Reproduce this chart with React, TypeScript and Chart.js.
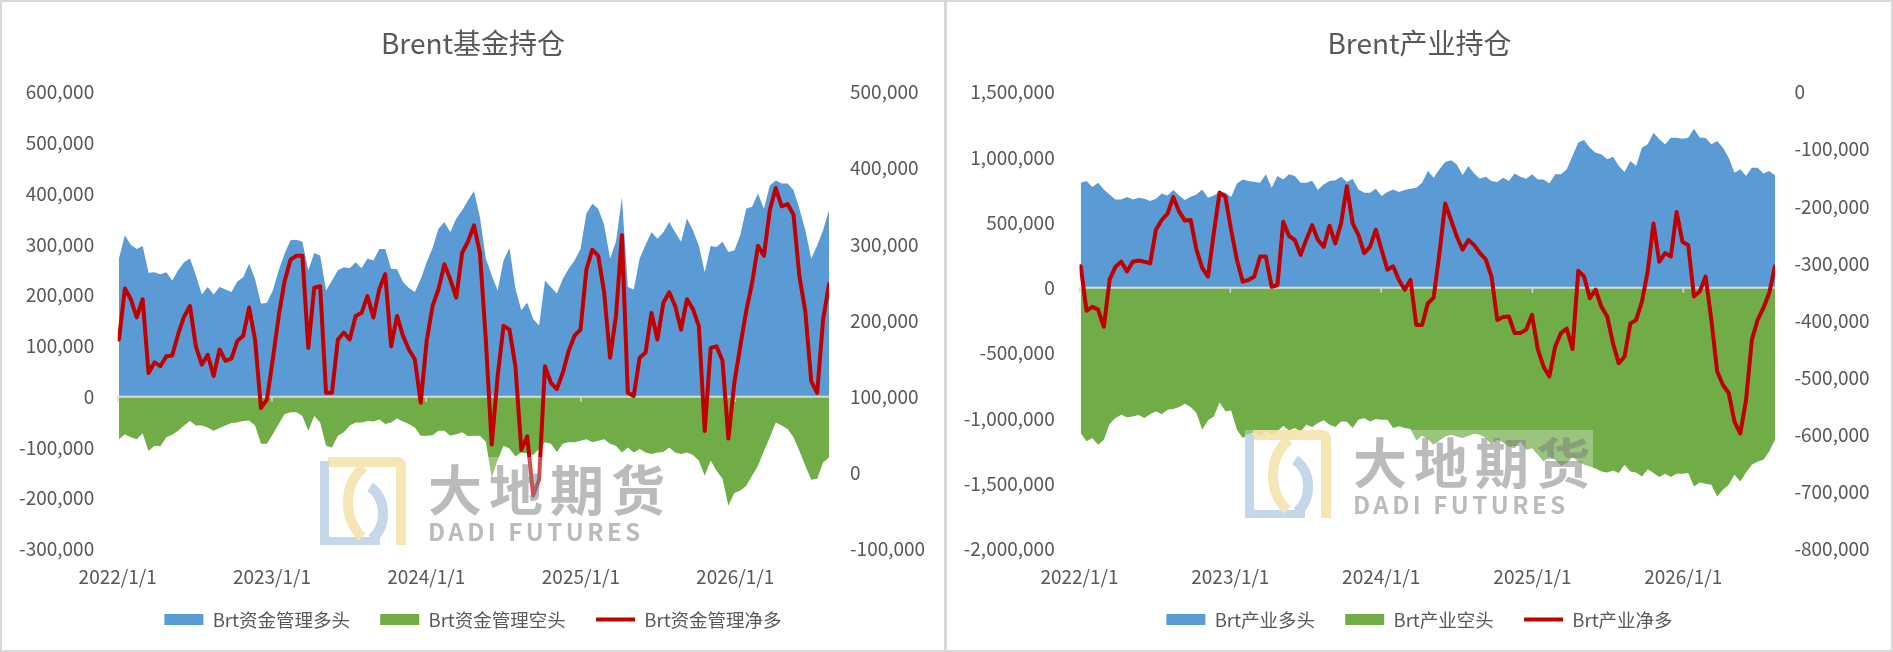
import { useEffect, useRef } from "react";
import { Chart, registerables, type ChartOptions, type Plugin } from "chart.js";

Chart.register(...registerables);

const FONT = '"Noto Sans CJK SC", "Noto Sans", sans-serif';
const TEXT = "#595959";
const BLUE = "#5B9BD5";
const GREEN = "#70AD47";
const RED = "#C00000";

// weekly COT reports, sampled every second week
const START = Date.UTC(2022, 0, 1);
const FIRST_REPORT = Date.UTC(2022, 0, 4);
const DAY = 86400000;
const STEP_DAYS = 14;

const yearTicks = ["2022/1/1", "2023/1/1", "2024/1/1", "2025/1/1", "2026/1/1"];

const fundLabels = ["Brt资金管理多头", "Brt资金管理空头", "Brt资金管理净多"];
const industryLabels = ["Brt产业多头", "Brt产业空头", "Brt产业净多"];

const fundLong = [
  272000, 318000, 299000, 291000, 297000, 244000, 245000, 241000, 245000, 229000,
  249000, 265000, 272000, 239000, 201000, 216000, 201000, 216000, 211000, 206000,
  227000, 235000, 262000, 232000, 183000, 185000, 209000, 249000, 282000, 308000,
  309000, 305000, 249000, 283000, 278000, 209000, 229000, 249000, 255000, 253000,
  265000, 253000, 272000, 268000, 291000, 291000, 252000, 251000, 226000, 214000,
  206000, 232000, 265000, 293000, 331000, 344000, 324000, 351000, 367000, 387000,
  405000, 354000, 272000, 239000, 209000, 268000, 293000, 213000, 170000, 185000,
  153000, 140000, 229000, 216000, 203000, 232000, 252000, 268000, 291000, 361000,
  380000, 370000, 338000, 272000, 305000, 393000, 216000, 211000, 272000, 299000,
  324000, 311000, 324000, 344000, 324000, 305000, 351000, 328000, 298000, 245000,
  297000, 295000, 305000, 285000, 288000, 318000, 370000, 374000, 400000, 370000,
  416000, 426000, 420000, 420000, 407000, 370000, 328000, 272000, 298000, 328000,
  367000,
];

const fundShort = [
  -84000, -74000, -80000, -84000, -72000, -107000, -97000, -98000, -80000, -75000,
  -67000, -57000, -48000, -57000, -57000, -61000, -67000, -62000, -57000, -52000,
  -51000, -48000, -47000, -57000, -93000, -93000, -74000, -54000, -34000, -31000,
  -31000, -38000, -67000, -38000, -51000, -97000, -100000, -77000, -70000, -57000,
  -51000, -51000, -48000, -49000, -45000, -54000, -51000, -43000, -49000, -54000,
  -61000, -77000, -77000, -76000, -67000, -67000, -77000, -74000, -70000, -78000,
  -77000, -77000, -89000, -160000, -125000, -97000, -102000, -118000, -110000, -112000,
  -115000, -103000, -90000, -93000, -109000, -93000, -90000, -90000, -87000, -84000,
  -90000, -87000, -84000, -93000, -97000, -110000, -100000, -110000, -103000, -110000,
  -113000, -110000, -109000, -100000, -110000, -113000, -110000, -115000, -126000, -156000,
  -126000, -146000, -162000, -215000, -190000, -185000, -176000, -156000, -136000, -107000,
  -80000, -51000, -57000, -64000, -80000, -107000, -136000, -164000, -162000, -130000,
  -120000,
];

const fundNet = [
  175000, 242000, 228000, 204000, 228000, 131000, 145000, 140000, 153000, 154000,
  182000, 205000, 219000, 166000, 142000, 155000, 127000, 162000, 147000, 150000,
  173000, 180000, 217000, 175000, 85000, 96000, 149000, 206000, 252000, 280000,
  285000, 285000, 164000, 243000, 245000, 105000, 105000, 175000, 184000, 175000,
  206000, 210000, 232000, 204000, 241000, 261000, 166000, 206000, 180000, 162000,
  149000, 92000, 173000, 219000, 241000, 274000, 254000, 230000, 289000, 304000,
  325000, 289000, 175000, 37000, 127000, 193000, 188000, 140000, 30000, 48000,
  -30000, -9000, 140000, 118000, 110000, 131000, 160000, 180000, 188000, 267000,
  293000, 285000, 237000, 151000, 206000, 312000, 105000, 101000, 151000, 158000,
  210000, 175000, 223000, 237000, 219000, 188000, 228000, 215000, 193000, 55000,
  164000, 166000, 147000, 45000, 118000, 166000, 212000, 249000, 298000, 285000,
  345000, 374000, 350000, 353000, 339000, 258000, 212000, 120000, 105000, 201000,
  248000,
];

const industryLong = [
  806000, 818000, 772000, 806000, 754000, 714000, 678000, 678000, 696000, 678000,
  690000, 683000, 665000, 683000, 724000, 708000, 749000, 708000, 673000, 698000,
  716000, 754000, 690000, 708000, 734000, 729000, 696000, 800000, 831000, 818000,
  813000, 806000, 870000, 767000, 857000, 831000, 870000, 857000, 806000, 806000,
  821000, 749000, 793000, 818000, 824000, 852000, 811000, 836000, 754000, 729000,
  729000, 760000, 703000, 734000, 754000, 734000, 749000, 760000, 767000, 806000,
  895000, 844000, 908000, 964000, 977000, 946000, 862000, 934000, 877000, 836000,
  852000, 818000, 811000, 844000, 818000, 877000, 852000, 836000, 870000, 831000,
  831000, 800000, 870000, 870000, 908000, 1010000, 1113000, 1133000, 1074000, 1036000,
  1023000, 985000, 1005000, 934000, 887000, 972000, 934000, 1074000, 1100000, 1189000,
  1138000, 1100000, 1151000, 1151000, 1143000, 1151000, 1220000, 1151000, 1151000, 1100000,
  1125000, 1074000, 997000, 882000, 908000, 857000, 921000, 921000, 877000, 895000,
  862000,
];

const industryShort = [
  -1113000, -1176000, -1151000, -1202000, -1164000, -1041000, -997000, -972000, -992000, -985000,
  -974000, -997000, -969000, -946000, -969000, -933000, -928000, -913000, -887000, -913000,
  -959000, -1087000, -1015000, -985000, -877000, -946000, -939000, -1087000, -1151000, -1125000,
  -1107000, -1138000, -1092000, -1125000, -1100000, -1056000, -1092000, -1074000, -1100000, -1049000,
  -1066000, -1036000, -1015000, -1049000, -1066000, -1023000, -1025000, -1074000, -1010000, -997000,
  -1023000, -1005000, -1010000, -1010000, -1074000, -1061000, -1074000, -1082000, -1169000, -1133000,
  -1160000, -1202000, -1169000, -1138000, -1125000, -1138000, -1151000, -1133000, -1118000, -1125000,
  -1151000, -1202000, -1164000, -1184000, -1215000, -1228000, -1176000, -1240000, -1228000, -1279000,
  -1330000, -1292000, -1317000, -1363000, -1343000, -1297000, -1330000, -1355000, -1368000, -1384000,
  -1407000, -1414000, -1399000, -1419000, -1355000, -1407000, -1414000, -1445000, -1389000, -1419000,
  -1450000, -1425000, -1450000, -1425000, -1425000, -1419000, -1522000, -1491000, -1501000, -1509000,
  -1598000, -1547000, -1509000, -1432000, -1483000, -1414000, -1355000, -1330000, -1317000, -1253000,
  -1164000,
];

const industryNet = [
  -305000, -383000, -376000, -381000, -411000, -328000, -306000, -297000, -314000, -297000,
  -295000, -297000, -300000, -241000, -224000, -213000, -184000, -209000, -225000, -224000,
  -276000, -308000, -323000, -247000, -176000, -183000, -242000, -294000, -332000, -329000,
  -323000, -288000, -288000, -341000, -338000, -227000, -252000, -259000, -285000, -258000,
  -233000, -259000, -271000, -234000, -265000, -230000, -165000, -230000, -250000, -282000,
  -271000, -241000, -276000, -311000, -305000, -329000, -346000, -329000, -408000, -408000,
  -370000, -360000, -282000, -195000, -224000, -253000, -276000, -259000, -268000, -282000,
  -293000, -323000, -399000, -394000, -393000, -422000, -422000, -416000, -390000, -450000,
  -481000, -498000, -446000, -422000, -414000, -450000, -313000, -323000, -361000, -346000,
  -376000, -393000, -440000, -475000, -463000, -405000, -399000, -367000, -314000, -230000,
  -297000, -282000, -288000, -210000, -262000, -268000, -358000, -349000, -323000, -399000,
  -489000, -513000, -527000, -577000, -598000, -539000, -434000, -399000, -378000, -352000,
  -305000,
];

const reportDays = fundLong.map((_, i) => (FIRST_REPORT - START) / DAY + i * STEP_DAYS);

const dayOf = (label: string) => {
  const [y, m, d] = label.split("/").map(Number);
  return (Date.UTC(y, m - 1, d) - START) / DAY;
};

const fmt = (v: number | string) => Number(v).toLocaleString("en-US");

// Excel style horizontal axis through zero, drawn over the areas but under the net line
const zeroAxis: Plugin<"line"> = {
  id: "zeroAxis",
  beforeDatasetDraw(chart, args) {
    if (args.index !== 2) return;
    const { ctx, chartArea, scales } = chart;
    const y = scales.y.getPixelForValue(0);
    ctx.save();
    ctx.strokeStyle = "#D9D9D9";
    ctx.lineWidth = 2;
    ctx.beginPath();
    ctx.moveTo(chartArea.left, y);
    ctx.lineTo(chartArea.right, y);
    ctx.stroke();
    ctx.lineWidth = 1.5;
    ctx.beginPath();
    yearTicks.forEach((t) => {
      const x = scales.x.getPixelForValue(dayOf(t));
      ctx.moveTo(x, y);
      ctx.lineTo(x, y + 5);
    });
    ctx.stroke();
    ctx.restore();
  },
};

type PanelProps = {
  left: number;
  width: number;
  title: string;
  labels: string[];
  long: number[];
  short: number[];
  net: number[];
  yMin: number;
  yMax: number;
  yStep: number;
  y1Min: number;
  y1Max: number;
  leftAxisWidth: number;
  leftPad: number;
  rightPad: number;
};

function PositionChart(p: PanelProps) {
  const canvasRef = useRef<HTMLCanvasElement | null>(null);
  const chartRef = useRef<Chart | null>(null);

  useEffect(() => {
    if (!canvasRef.current) return;
    if (chartRef.current) chartRef.current.destroy();

    const tickFont = { family: FONT, size: 19 };

    const options: ChartOptions<"line"> = {
      responsive: false,
      animation: false,
      layout: { padding: { top: 0, left: 0, right: 0, bottom: 13.15 } },
      elements: { point: { radius: 0 }, line: { tension: 0 } },
      scales: {
        x: {
          type: "linear",
          min: 0,
          max: reportDays[reportDays.length - 1],
          grid: { display: false, drawTicks: false },
          border: { display: false },
          afterBuildTicks: (s) => {
            s.ticks = yearTicks.map((t) => ({ value: dayOf(t) }));
          },
          afterFit: (s) => {
            s.height = 39.45;
          },
          ticks: {
            autoSkip: false,
            maxRotation: 0,
            padding: 16.4,
            color: TEXT,
            font: tickFont,
            callback: (_v, i) => yearTicks[i],
          },
        },
        y: {
          position: "left",
          min: p.yMin,
          max: p.yMax,
          grid: { display: false, drawTicks: false },
          border: { display: false },
          afterFit: (s) => {
            s.width = p.leftAxisWidth;
          },
          ticks: { stepSize: p.yStep, padding: p.leftPad, color: TEXT, font: tickFont, callback: fmt },
        },
        y1: {
          position: "right",
          min: p.y1Min,
          max: p.y1Max,
          grid: { display: false, drawTicks: false },
          border: { display: false },
          afterFit: (s) => {
            s.width = p.width - 829;
          },
          ticks: { stepSize: 100000, padding: p.rightPad, color: TEXT, font: tickFont, callback: fmt },
        },
      },
      plugins: {
        title: {
          display: true,
          text: p.title,
          color: TEXT,
          font: { family: FONT, size: 28, weight: "normal" },
          padding: { top: 27, bottom: 31.5 },
        },
        legend: {
          display: true,
          position: "bottom",
          labels: {
            color: TEXT,
            font: { family: FONT, size: 18.5 },
            usePointStyle: true,
            pointStyleWidth: 39,
            boxHeight: 11,
            padding: 22,
            generateLabels: (chart) =>
              chart.data.datasets.map((ds, i) => ({
                // a little extra room after the first two entries
                text: i < 2 ? `${ds.label}\u00a0\u00a0` : (ds.label as string),
                datasetIndex: i,
                fillStyle: i === 2 ? "rgba(0,0,0,0)" : (ds.backgroundColor as string),
                strokeStyle: i === 2 ? RED : "rgba(0,0,0,0)",
                lineWidth: i === 2 ? 4 : 0,
                pointStyle: i === 2 ? "line" : "rect",
                hidden: false,
                fontColor: TEXT,
              })),
          },
        },
        tooltip: { enabled: false },
      },
    };

    const toPoints = (vals: number[]) => reportDays.map((x, i) => ({ x, y: vals[i] }));

    chartRef.current = new Chart(canvasRef.current, {
      type: "line",
      data: {
        datasets: [
          {
            label: p.labels[0],
            data: toPoints(p.long),
            backgroundColor: BLUE,
            borderColor: "rgba(0,0,0,0)",
            borderWidth: 0,
            fill: "origin",
            yAxisID: "y",
            order: 1,
          },
          {
            label: p.labels[1],
            data: toPoints(p.short),
            backgroundColor: GREEN,
            borderColor: "rgba(0,0,0,0)",
            borderWidth: 0,
            fill: "origin",
            yAxisID: "y",
            order: 2,
          },
          {
            label: p.labels[2],
            data: toPoints(p.net),
            borderColor: RED,
            backgroundColor: RED,
            borderWidth: 4,
            borderJoinStyle: "round",
            borderCapStyle: "round",
            fill: false,
            yAxisID: "y1",
            order: 0,
          },
        ],
      },
      options,
      plugins: [zeroAxis],
    });

    return () => chartRef.current?.destroy();
  }, [p]);

  return (
    <canvas
      ref={canvasRef}
      width={p.width}
      height={652}
      style={{ position: "absolute", left: p.left, top: 0, width: p.width, height: 652 }}
    />
  );
}

function Watermark({ left, top }: { left: number; top: number }) {
  return (
    <div
      style={{
        position: "absolute",
        left,
        top,
        width: 348,
        height: 88,
        background: "rgba(255,255,255,0.3)",
        pointerEvents: "none",
      }}
    >
      <svg width={88} height={88} viewBox="0 0 88 88" style={{ position: "absolute", left: 0, top: 0, opacity: 0.85 }}>
        <path d="M8 0 H76 Q86 0 86 10 V88 H76 V10 H8 Z" fill="#F2E2A8" />
        <path d="M0 4 H9 V78 Q9 80 12 80 H60 V88 H0 Z" fill="#BCD0E6" />
        <path d="M44 10 C24 26 22 60 42 80" stroke="#F2E2A8" strokeWidth={10} fill="none" />
        <path d="M50 30 C66 40 68 68 52 82" stroke="#BCD0E6" strokeWidth={10} fill="none" />
      </svg>
      <div
        style={{
          position: "absolute",
          left: 108,
          top: 0,
          font: `bold 54px ${FONT}`,
          letterSpacing: 7,
          lineHeight: "62px",
          color: "rgba(120,120,120,0.5)",
          whiteSpace: "nowrap",
        }}
      >
        大地期货
      </div>
      <div
        style={{
          position: "absolute",
          left: 108,
          top: 60,
          font: `bold 24px ${FONT}`,
          letterSpacing: 3.5,
          lineHeight: "28px",
          color: "rgba(120,120,120,0.5)",
          whiteSpace: "nowrap",
        }}
      >
        DADI FUTURES
      </div>
    </div>
  );
}

const fundPanel: PanelProps = {
  left: 0,
  width: 946,
  title: "Brent基金持仓",
  labels: fundLabels,
  long: fundLong,
  short: fundShort,
  net: fundNet,
  yMin: -300000,
  yMax: 600000,
  yStep: 100000,
  y1Min: -100000,
  y1Max: 500000,
  leftAxisWidth: 117.7,
  leftPad: 23.5,
  rightPad: 21,
};

const industryPanel: PanelProps = {
  left: 946,
  width: 947,
  title: "Brent产业持仓",
  labels: industryLabels,
  long: industryLong,
  short: industryShort,
  net: industryNet,
  yMin: -2000000,
  yMax: 1500000,
  yStep: 500000,
  y1Min: -800000,
  y1Max: 0,
  leftAxisWidth: 133.5,
  leftPad: 24.8,
  rightPad: 19.4,
};

export default function App() {
  return (
    <div style={{ position: "fixed", left: 0, top: 0, width: 1893, height: 652, background: "#fff", overflow: "hidden" }}>
      <div
        style={{
          position: "absolute",
          left: 0,
          top: 0,
          width: 946,
          height: 652,
          boxSizing: "border-box",
          border: "2px solid #D9D9D9",
        }}
      />
      <div
        style={{
          position: "absolute",
          left: 946,
          top: 0,
          width: 947,
          height: 652,
          boxSizing: "border-box",
          border: "2px solid #D9D9D9",
          borderLeft: "1px solid #D9D9D9",
        }}
      />
      <PositionChart {...fundPanel} />
      <PositionChart {...industryPanel} />
      <Watermark left={320} top={457} />
      <Watermark left={1245} top={430} />
    </div>
  );
}
